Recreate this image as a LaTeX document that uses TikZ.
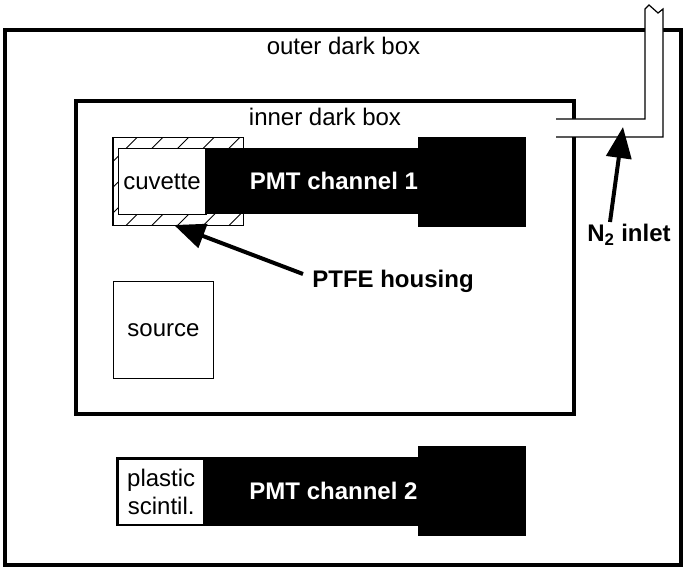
\documentclass[tikz,border=0pt]{standalone}
\usepackage{fontspec}
\setmainfont{Liberation Sans}
\usetikzlibrary{arrows.meta}
\tikzset{
  darkbox/.style={draw=black,line width=4pt,fill=white},
  thinbox/.style={draw=black,line width=1pt,fill=white},
  solid block/.style={fill=black,draw=none},
  labeltext/.style={font=\fontsize{24}{28}\selectfont,text=black,inner sep=0pt},
  boldtext/.style={font=\fontsize{24}{28}\selectfont\bfseries,inner sep=0pt},
  callout/.style={line width=4pt,-{Triangle[length=31pt,width=25pt]}},
  tube/.style={draw=black,line width=1.2pt}
}
\begin{document}
\begin{tikzpicture}[x=1pt,y=-1pt]
\useasboundingbox (0,0) rectangle (686,569);
% enclosures
\draw[darkbox] (5,30) rectangle (681,565);
\draw[darkbox] (76,101) rectangle (574,414);
\node[labeltext] (outerlabel) at (343.5,46) {outer dark box};
\node[labeltext] (innerlabel) at (325,117) {inner dark box};
% nitrogen feed line
\fill[white] (556,119) -- (645,119) -- (645,9) -- (649,5) -- (658,13) -- (663,9) -- (663,137) -- (556,137) -- cycle;
\draw[tube] (556,119) -- (645,119) -- (645,9) -- (649,5) -- (658,13) -- (663,9) -- (663,137) -- (556,137);
% PTFE housing with hatching
\begin{scope}
  \clip (113,137.5) rectangle (243.5,225.5);
  \foreach \k in {0,...,10}{
    \draw[line width=0.9pt] ({274.5+25.7*\k-137.5},137.5) -- ++(-90,90);
  }
\end{scope}
\draw[line width=1.1pt] (113,137.5) rectangle (243.5,225.5);
% PMT channel 1
\node[thinbox,minimum width=88pt,minimum height=66pt,inner sep=0pt,anchor=north west,labeltext] (cuvette) at (117.5,148) {cuvette};
\fill[solid block] (205,148) rectangle (418,214);
\fill[solid block] (418,137) rectangle (526,227);
\node[boldtext,text=white] (pmtone) at (334,181) {PMT channel 1};
% source
\node[draw=black,line width=1pt,fill=white,minimum width=100pt,minimum height=97pt,inner sep=0pt,anchor=north west,labeltext] (source) at (113,281) {source};
% PMT channel 2
\fill[solid block] (116,457) rectangle (418,526);
\fill[solid block] (418,446) rectangle (526,536);
\node[fill=white,minimum width=84pt,minimum height=64pt,inner sep=0pt,anchor=north west,labeltext,align=center] (plastic) at (119,459.5) {plastic\\scintil.};
\node[boldtext,text=white] (pmttwo) at (333.5,491) {PMT channel 2};
% callouts
\node[boldtext] (ptfe) at (393,281) {PTFE housing};
\node[boldtext,anchor=north] (nitrogen) at (629,224) {N\textsubscript{2} inlet};
\coordinate (ptfetip) at (174,225);
\coordinate (inlettip) at (623,127);
\coordinate (ptfetail) at (303,274);
\coordinate (inlettail) at (610,222);
\draw[callout] (ptfetail) -- (ptfetip);
\draw[callout] (inlettail) -- (inlettip);
\end{tikzpicture}
\end{document}
